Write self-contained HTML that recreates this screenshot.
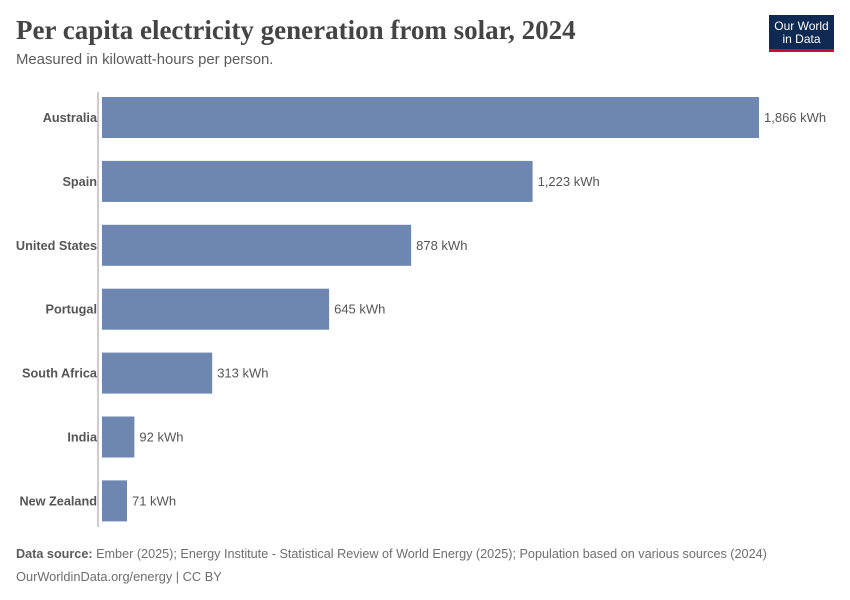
<!DOCTYPE html>
<html><head><meta charset="utf-8"><style>
body{margin:0;background:#fff;font-family:"Liberation Sans",sans-serif;}
#wrap{position:relative;width:850px;height:600px;overflow:hidden;}
.t{position:absolute;white-space:nowrap;}
</style></head><body>
<div id="wrap">
<div class="t" style="left:16px;top:15px;font-family:'Liberation Serif',serif;font-size:27px;color:#444;font-weight:bold;letter-spacing:0px">Per capita electricity generation from solar, 2024</div>
<div class="t" style="left:16px;top:52px;font-size:14.9px;color:#5b5b5b">Measured in kilowatt-hours per person.</div>
<div style="position:absolute;left:769px;top:15px;width:65px;height:37px;background:#0f2a52;border-bottom:3px solid #c8102e;box-sizing:border-box;color:#fff;font-size:12px;line-height:13px;text-align:center;padding-top:5px">Our World<br>in Data</div>
<svg id="plot" width="850" height="600" style="position:absolute;left:0;top:0"></svg>
<div class="t" style="left:16px;top:547px;font-size:12.65px;color:#6e6e6e"><b style="color:#5b5b5b">Data source:</b> Ember (2025); Energy Institute - Statistical Review of World Energy (2025); Population based on various sources (2024)</div>
<div class="t" style="left:16px;top:569px;font-size:12.8px;color:#6e6e6e">OurWorldinData.org/energy | CC BY</div>
</div>
<script>
const categories=["Australia","Spain","United States","Portugal","South Africa","India","New Zealand"];
const values=[1866,1223,878,645,313,92,71];
const valueLabels=["1,866 kWh","1,223 kWh","878 kWh","645 kWh","313 kWh","92 kWh","71 kWh"];
const svg=document.getElementById('plot');
const NS='http://www.w3.org/2000/svg';
const x0=102, xScale=v=>x0+v*(657/1866);
const y=i=>97+i*63.9, bh=41;
const ax=document.createElementNS(NS,'line');


ax.setAttribute('x1',98);ax.setAttribute('x2',98);ax.setAttribute('y1',92);ax.setAttribute('y2',527);
ax.setAttribute('stroke','#999');svg.appendChild(ax);
categories.forEach((c,i)=>{
 const r=document.createElementNS(NS,'rect');
 
 
 r.setAttribute('x',x0);r.setAttribute('y',y(i));r.setAttribute('width',xScale(values[i])-x0);r.setAttribute('height',bh);
 r.setAttribute('fill','#6d87b0');svg.appendChild(r);
 const l=document.createElementNS(NS,'text');
 
 
 l.setAttribute('x',97);l.setAttribute('y',y(i)+bh/2+4.5);l.setAttribute('text-anchor','end');
 l.setAttribute('font-size','12.7');l.setAttribute('font-weight','bold');l.setAttribute('fill','#555');
 l.setAttribute('font-family','Liberation Sans, sans-serif');l.textContent=c;svg.appendChild(l);
 const v=document.createElementNS(NS,'text');
 
 
 v.setAttribute('x',xScale(values[i])+5);v.setAttribute('y',y(i)+bh/2+4.5);
 v.setAttribute('font-size','13');v.setAttribute('fill','#555');
 v.setAttribute('font-family','Liberation Sans, sans-serif');v.textContent=valueLabels[i];svg.appendChild(v);
});
</script>
</body></html>
